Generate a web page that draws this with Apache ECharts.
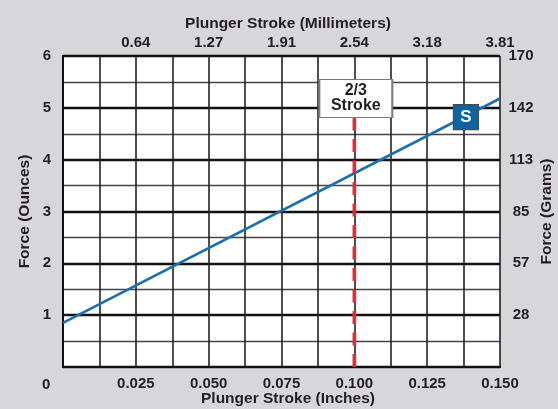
<!DOCTYPE html>
<html>
<head>
<meta charset="utf-8">
<script src="https://cdn.jsdelivr.net/npm/echarts@6/dist/echarts.min.js"></script>
<style>
html,body{margin:0;padding:0;background:#d7d7d9;}
#chart{width:558px;height:409px;}
</style>
</head>
<body>
<div id="chart"></div>
<script>
// ---- data ----
var inchLabels = ['0.025', '0.050', '0.075', '0.100', '0.125', '0.150'];
var mmLabels = ['0.64', '1.27', '1.91', '2.54', '3.18', '3.81'];
var ounceLabels = ['', '1', '2', '3', '4', '5', '6'];
var gramLabels = ['', '28', '57', '85', '113', '142', '170'];
var forceLine = [[0, 0.85], [0.150, 5.18]];      // stroke (in), force (oz)
var strokeMarker = [[0.100, 0], [0.100, 4.80]];   // 2/3 stroke
var strokeLabel = [[0.1005, 5.18]];
var sLabel = [[0.1383, 4.82]];

var FONT = '"Liberation Sans", Arial, sans-serif';
var TXT = '#231f20';

function xIdx(v) { return Math.round(v / 0.0125); }

var chart = echarts.init(document.getElementById('chart'));
chart.setOption({
  backgroundColor: '#d7d7d9',
  animation: false,
  textStyle: { fontFamily: FONT },
  grid: { left: 63, right: 58, top: 56, bottom: 42, show: true, backgroundColor: '#ffffff', borderWidth: 0,
          containLabel: false, outerBoundsMode: 'none' },
  xAxis: [{
    type: 'value', position: 'bottom', min: 0, max: 0.15, interval: 0.0125,
    name: 'Plunger Stroke (Inches)', nameLocation: 'middle', nameGap: 24, nameMoveOverlap: false,
    nameTextStyle: { fontFamily: FONT, fontWeight: 'bold', fontSize: 15.5, color: TXT, padding: [0, 0, 0, 13] },
    axisLine: { show: true, lineStyle: { color: '#111', width: 2 } },
    axisTick: { show: false },
    splitLine: { show: true, lineStyle: { color: '#222', width: 1.6 } },
    axisLabel: {
      margin: 9, fontFamily: FONT, fontWeight: 'bold', fontSize: 15, color: TXT,
      formatter: function (v) { var i = xIdx(v); return (i > 0 && i % 2 === 0) ? inchLabels[i / 2 - 1] : ''; }
    }
  }, {
    type: 'value', position: 'top', min: 0, max: 0.15, interval: 0.0125,
    name: 'Plunger Stroke (Millimeters)', nameLocation: 'middle', nameGap: 24, nameMoveOverlap: false,
    nameTextStyle: { fontFamily: FONT, fontWeight: 'bold', fontSize: 15.5, color: TXT, padding: [0, 0, 0, 13] },
    axisLine: { show: true, lineStyle: { color: '#111', width: 2 } },
    axisTick: { show: false },
    splitLine: { show: false },
    axisLabel: {
      margin: 6, fontFamily: FONT, fontWeight: 'bold', fontSize: 15, color: TXT,
      formatter: function (v) { var i = xIdx(v); return (i > 0 && i % 2 === 0) ? mmLabels[i / 2 - 1] : ''; }
    }
  }],
  yAxis: [{
    type: 'value', position: 'left', min: 0, max: 6, interval: 1,
    name: 'Force (Ounces)', nameLocation: 'middle', nameGap: 30, nameRotate: 90, nameMoveOverlap: false,
    nameTextStyle: { fontFamily: FONT, fontWeight: 'bold', fontSize: 15.5, color: TXT },
    axisLine: { show: true, lineStyle: { color: '#111', width: 2 } },
    axisTick: { show: false },
    splitLine: { show: true, lineStyle: { color: '#111', width: 2.4 } },
    minorTick: { show: false, splitNumber: 2 },
    minorSplitLine: { show: true, lineStyle: { color: '#444', width: 1.4 } },
    axisLabel: {
      margin: 16, align: 'center', fontFamily: FONT, fontWeight: 'bold', fontSize: 15, color: TXT,
      formatter: function (v) { return ounceLabels[Math.round(v)]; }
    }
  }, {
    type: 'value', position: 'right', min: 0, max: 6, interval: 1,
    name: 'Force (Grams)', nameLocation: 'middle', nameGap: 39, nameRotate: 90, nameMoveOverlap: false,
    nameTextStyle: { fontFamily: FONT, fontWeight: 'bold', fontSize: 15.5, color: TXT },
    axisLine: { show: true, lineStyle: { color: '#111', width: 2 } },
    axisTick: { show: false },
    splitLine: { show: false },
    axisLabel: {
      margin: 21, align: 'center', fontFamily: FONT, fontWeight: 'bold', fontSize: 15, color: TXT,
      formatter: function (v) { return gramLabels[Math.round(v)]; }
    }
  }],
  graphic: [{
    type: 'text', left: 42, top: 377,
    style: { text: '0', font: 'bold 15px ' + FONT, fill: TXT }
  }],
  series: [{
    type: 'line', data: forceLine, showSymbol: false, symbol: 'none', z: 3,
    lineStyle: { color: '#1b6fae', width: 2.6 }
  }, {
    type: 'line', data: strokeMarker, showSymbol: false, symbol: 'none', z: 4,
    lineStyle: { color: '#ef2530', width: 3.6, type: [13, 8.5], cap: 'butt' }
  }, {
    type: 'scatter', data: strokeLabel, symbol: 'rect', symbolSize: [73, 38], z: 6,
    itemStyle: { color: '#ffffff', borderColor: '#7a7a7a', borderWidth: 1.5, opacity: 1 },
    label: {
      show: true, position: 'inside', formatter: '2/3\nStroke', opacity: 1,
      fontFamily: FONT, fontWeight: 'bold', fontSize: 16, lineHeight: 15, color: TXT
    }
  }, {
    type: 'scatter', data: sLabel, symbol: 'rect', symbolSize: 25, z: 6,
    itemStyle: { color: '#0e63a2', borderColor: '#4a4a4a', borderWidth: 1.2, opacity: 1 },
    label: { show: true, position: 'inside', formatter: 'S', opacity: 1, fontFamily: FONT, fontWeight: 'bold', fontSize: 17, color: '#ffffff' }
  }]
});
</script>
</body>
</html>
